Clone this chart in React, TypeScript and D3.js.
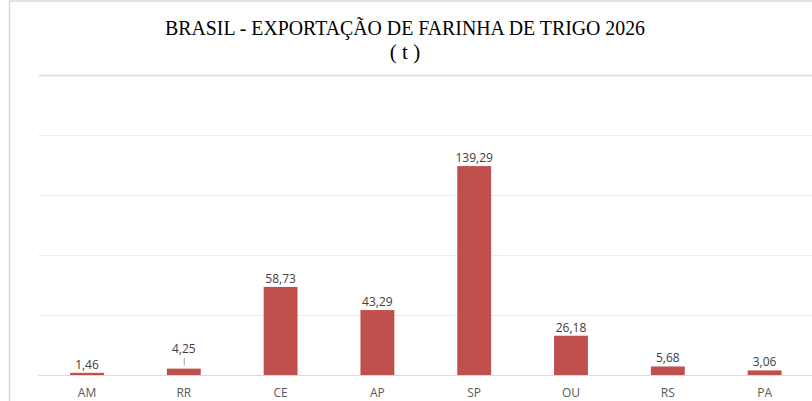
import * as d3 from 'd3';
import React, { useRef, useEffect } from 'react';

const categories = ['AM', 'RR', 'CE', 'AP', 'SP', 'OU', 'RS', 'PA'];
const values = [1.46, 4.25, 58.73, 43.29, 139.29, 26.18, 5.68, 3.06];
const yTicks = [0, 40, 80, 120, 160, 200];
// labels nudged up by Excel (RR has a leader line)
const labelLift = [0, 12, 0, 0, 0, 0, 0, 0];

const width = 812;
const height = 401;

function App() {
  const ref = useRef<SVGSVGElement>(null);

  useEffect(() => {
    const svg = d3.select(ref.current);
    svg.selectAll('*').remove();

    const margin = { top: 75, right: -1, bottom: 26, left: 38.6 };

    const x = d3
      .scaleBand()
      .domain(categories)
      .range([margin.left, width - margin.right])
      .paddingInner(0.65)
      .paddingOuter(0.325);

    const y = d3
      .scaleLinear()
      .domain([0, 200])
      .range([height - margin.bottom, margin.top]);

    svg.append('rect')
      .attr('width', width)
      .attr('height', height)
      .attr('fill', '#ffffff');

    // chart border
    svg.append('rect')
      .attr('x', 9.5)
      .attr('y', 1)
      .attr('width', width + 10)
      .attr('height', height + 10)
      .attr('fill', 'none')
      .attr('stroke', '#d9d9d9')
      .attr('stroke-width', 1.5);

    // gridlines
    svg.append('g')
      .selectAll('line')
      .data(yTicks)
      .enter()
      .append('line')
      .attr('x1', margin.left)
      .attr('x2', width)
      .attr('y1', (d) => Math.round(y(d)) + 0.5)
      .attr('y2', (d) => Math.round(y(d)) + 0.5)
      .attr('stroke', (d) => (d === 0 || d === 200 ? '#d9d9d9' : '#ececec'))
      .attr('stroke-width', (d) => (d === 200 ? 1.5 : 1));

    svg.append('g')
      .selectAll('rect')
      .data(values)
      .enter()
      .append('rect')
      .attr('x', (d, i) => x(categories[i]) as number)
      .attr('y', (d) => y(d))
      .attr('width', x.bandwidth())
      .attr('height', (d) => y(0) - y(d))
      .attr('fill', '#c0504d');

    const cx = (i: number) => (x(categories[i]) as number) + x.bandwidth() / 2;

    // leader lines
    svg.append('g')
      .selectAll('line')
      .data(values.map((v, i) => ({ v, i })).filter((d) => labelLift[d.i] > 0))
      .enter()
      .append('line')
      .attr('x1', (d) => cx(d.i) + 0.5)
      .attr('x2', (d) => cx(d.i) + 0.5)
      .attr('y1', (d) => y(d.v) - labelLift[d.i] + 1)
      .attr('y2', (d) => y(d.v) - 3)
      .attr('stroke', '#a6a6a6')
      .attr('stroke-width', 1);

    svg.append('g')
      .selectAll('text')
      .data(values)
      .enter()
      .append('text')
      .attr('x', (d, i) => cx(i))
      .attr('y', (d, i) => y(d) - 4 - labelLift[i])
      .attr('text-anchor', 'middle')
      .attr('font-family', 'Open Sans, sans-serif')
      .attr('font-size', 12)
      .attr('fill', '#404040')
      .text((d) => d3.format('.2f')(d).replace('.', ','));

    svg.append('g')
      .selectAll('text')
      .data(categories)
      .enter()
      .append('text')
      .attr('x', (d, i) => cx(i))
      .attr('y', height - 4)
      .attr('text-anchor', 'middle')
      .attr('font-family', 'Open Sans, sans-serif')
      .attr('font-size', 12)
      .attr('fill', '#595959')
      .text((d) => d);

    const title = svg.append('text')
      .attr('text-anchor', 'middle')
      .attr('font-family', 'Liberation Serif, serif')
      .attr('font-size', 21)
      .attr('fill', '#000000');
    title.append('tspan')
      .attr('x', 405)
      .attr('y', 35)
      .attr('textLength', 480)
      .attr('lengthAdjust', 'spacingAndGlyphs')
      .text('BRASIL - EXPORTAÇÃO DE FARINHA DE TRIGO 2026');
    title.append('tspan')
      .attr('x', 405)
      .attr('y', 59)
      .text('( t )');
  }, []);

  return (
    <svg
      ref={ref}
      width={width}
      height={height}
      style={{ position: 'fixed', top: 0, left: 0, display: 'block' }}
    ></svg>
  );
}

export default App;
